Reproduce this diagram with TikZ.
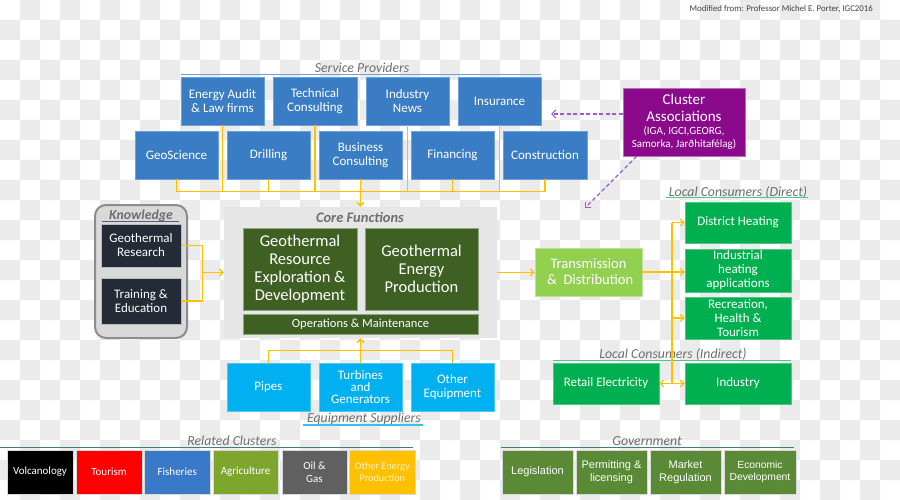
\documentclass[tikz,border=0pt]{standalone}
\usepackage{fontspec}
\setmainfont{Carlito}
\newfontfamily\arialf{Liberation Sans}
\usetikzlibrary{arrows.meta}
\definecolor{chk}{HTML}{EBEBEB}
\definecolor{spblue}{HTML}{3A7DC4}
\definecolor{spedge}{HTML}{6FA0D8}
\definecolor{capurple}{HTML}{8B0A8B}
\definecolor{dashP}{HTML}{9A5BD2}
\definecolor{connY}{HTML}{FFC000}
\definecolor{navy}{HTML}{232B36}
\definecolor{kgfill}{HTML}{D9D9D9}
\definecolor{kgedge}{HTML}{8C8C8C}
\definecolor{corefill}{HTML}{E6E6E6}
\definecolor{dgreen}{HTML}{3E6123}
\definecolor{dgedge}{HTML}{8FA67A}
\definecolor{lgreen}{HTML}{92D050}
\definecolor{cgreen}{HTML}{00B050}
\definecolor{cyanb}{HTML}{00B0F0}
\definecolor{lblgray}{HTML}{6E6E6E}
\definecolor{teal}{HTML}{3F7F7F}
\definecolor{fishb}{HTML}{3A78C8}
\definecolor{agri}{HTML}{7EA62D}
\definecolor{oilg}{HTML}{606060}
\definecolor{govg}{HTML}{5A8A35}
\definecolor{paleY}{HTML}{FFF2CC}
\newcommand\mybox[7]{\node[#6, minimum width={(#4)-(#2)}, minimum height={(#5)-(#3)}] (#1) at ({((#2)+(#4))/2},{((#3)+(#5))/2}) {#7};}
\newcommand\smallca{\fontsize{11}{13}\selectfont}
\begin{document}
\begin{tikzpicture}[x=1pt,y=-1pt,
  base/.style={inner sep=0pt, align=center, text=white},
  spbox/.style={base, fill=spblue, draw=spedge, line width=0.8pt, font=\fontsize{13}{14}\selectfont},
  kbox/.style={base, fill=navy, draw=kgedge!60, line width=0.6pt, font=\fontsize{13}{14}\selectfont},
  gbox/.style={base, fill=dgreen, draw=dgedge, line width=0.8pt, font=\fontsize{16.5}{18}\selectfont},
  cbox/.style={base, fill=cgreen, draw=cgreen!70!white, line width=0.6pt, font=\fontsize{13}{14}\selectfont},
  ebox/.style={base, fill=cyanb, draw=cyanb!70!white, line width=0.6pt, font=\fontsize{13}{12}\selectfont},
  rbox/.style={base, draw=white!85!black, line width=0.6pt, font=\fontsize{11}{13}\selectfont},
  gvbox/.style={base, fill=govg, draw=white!85!black, line width=0.6pt, font=\arialf\fontsize{11}{13}\selectfont},
  lbl/.style={inner sep=0pt, text=lblgray, font=\fontsize{13.8}{16}\selectfont\itshape},
  yline/.style={draw=connY, line width=1.3pt},
  yarrow/.style={yline, -{Straight Barb[length=3.5pt,width=7pt]}},
  pdash/.style={draw=dashP, line width=1.2pt, dash pattern=on 4pt off 2.5pt, -{Straight Barb[length=4pt,width=8pt]}}
]
\useasboundingbox (0,0) rectangle (900,500);
% checkerboard background
\fill[white] (0,0) rectangle (900,500);
\fill[chk] \foreach \i in {1,3,...,43}{\foreach \j in {0,2,...,24}{(20*\i,20*\j) rectangle ++(20,20)}}
           \foreach \i in {0,2,...,44}{\foreach \j in {1,3,...,23}{(20*\i,20*\j) rectangle ++(20,20)}};

% credit
\node[inner sep=0pt, anchor=east, text=black!75, font=\fontsize{8.8}{10}\selectfont] (credit) at (873,9) {Modified from: Professor Michel E. Porter, IGC2016};

% Service providers
\node[lbl] (splbl) at (362,68) {Service Providers};
\draw[draw=spedge, line width=1pt] (181,74.5) -- (541,74.5);
\mybox{ea}{181}{77}{264}{125}{spbox}{Energy Audit\\\& Law firms}
\mybox{tc}{273}{77}{357}{125}{spbox}{Technical\\Consulting}
\mybox{inn}{366}{77}{449}{125}{spbox}{Industry\\News}
\mybox{ins}{458}{77}{541}{125}{spbox}{Insurance}
\mybox{geo}{135}{131}{218}{179}{spbox}{GeoScience}
\mybox{dri}{227}{131}{310}{179}{spbox}{Drilling}
\mybox{bus}{319}{131}{402}{179}{spbox}{Business\\Consulting}
\mybox{fin}{411}{131}{494}{179}{spbox}{Financing}
\mybox{con}{503}{131}{587}{179}{spbox}{Construction}

% Cluster associations
\mybox{ca}{623}{88}{745}{156}{base, fill=capurple, draw=capurple!60!white, line width=0.6pt, font=\fontsize{15}{16.5}\selectfont}{Cluster\\Associations\\[-3pt]{\smallca (IGA, IGCI,GEORG,}\\[-3.5pt]{\smallca Samorka, Jarðhitafélag)}}

% Knowledge
\mybox{kg}{95}{205}{187}{338}{fill=kgfill, draw=kgedge, line width=2pt, rounded corners=11pt, inner sep=0pt}{}
\node[inner sep=0pt, text=lblgray, font=\fontsize{13.8}{16}\selectfont\bfseries\itshape] (klbl) at (141,215.5) {Knowledge};
\draw[draw=black!45!blue!30!gray, line width=1.2pt] (102,221.5) -- (179,221.5);
\mybox{res}{101}{224}{181}{267}{kbox}{Geothermal\\Research}
\mybox{trn}{101}{278}{181}{324}{kbox}{Training \&\\Education}

% Core functions
\mybox{core}{224}{207}{497}{338}{fill=corefill, inner sep=0pt}{}
\node[inner sep=0pt, text=lblgray, font=\fontsize{14.5}{16}\selectfont\bfseries\itshape] (corelbl) at (360,217) {Core Functions};
\mybox{gred}{243}{228}{357}{310}{gbox}{Geothermal\\Resource\\Exploration \&\\Development}
\mybox{gep}{365}{228}{478}{310}{gbox}{Geothermal\\Energy\\Production}
\mybox{om}{243}{314}{478}{334}{gbox, font=\fontsize{12.5}{14}\selectfont}{Operations \& Maintenance}

% Transmission
\mybox{td}{535}{248}{642}{296}{base, fill=lgreen, draw=lgreen!60!white, line width=0.6pt, font=\fontsize{14.5}{16}\selectfont}{Transmission\\\ \&\ \ Distribution}

% Local consumers
\node[lbl] (ldlbl) at (738,192) {Local Consumers (Direct)};
\draw[draw=cgreen!70!white, line width=1pt] (666,197.5) -- (808,197.5);
\mybox{dh}{685}{202}{791}{243}{cbox}{District Heating}
\mybox{ih}{685}{249}{791}{292}{cbox}{Industrial\\heating\\applications}
\mybox{rht}{685}{297}{791}{339}{cbox}{Recreation,\\Health \&\\Tourism}
\node[lbl] (lilbl) at (673,354) {Local Consumers (Indirect)};
\draw[draw=cgreen!70!white, line width=1pt] (553,360) -- (791,360);
\mybox{indus}{685}{363}{791}{404}{cbox}{Industry}
\mybox{ret}{553}{363}{659}{404}{cbox}{Retail Electricity}

% Equipment suppliers
\mybox{pipes}{227}{363}{310}{411}{ebox}{Pipes}
\mybox{turb}{319}{363}{402}{411}{ebox}{Turbines\\and\\Generators}
\mybox{oth}{411}{363}{494}{411}{ebox, font=\fontsize{13}{14}\selectfont}{Other\\Equipment}
\node[lbl] (eqlbl) at (364,419) {Equipment Suppliers};
\draw[draw=cyanb!80!white, line width=1.2pt] (303,425) -- (423,425);

% Related clusters
\node[lbl] (rclbl) at (232,441) {Related Clusters};
\draw[draw=teal, line width=1pt] (0,447.7) -- (413,447.7);
\mybox{volc}{7}{450}{73}{494}{rbox, fill=black}{Volcanology}
\mybox{tour}{76}{450}{142}{494}{rbox, fill=red}{Tourism}
\mybox{fish}{144.5}{450}{210}{494}{rbox, fill=fishb}{Fisheries}
\mybox{agr}{213}{450}{278}{494}{rbox, fill=agri}{Agriculture}
\mybox{oil}{282}{450}{347}{494}{rbox, fill=oilg}{Oil \&\\Gas}
\mybox{oep}{349.5}{450}{415}{494}{rbox, fill=connY, text=paleY, font=\fontsize{10.2}{11.5}\selectfont}{Other Energy\\Production}

% Government
\node[lbl] (gvlbl) at (647,441) {Government};
\draw[draw=teal, line width=1pt] (501,447.7) -- (794,447.7);
\mybox{leg}{502}{450}{573}{494}{gvbox}{Legislation}
\mybox{perm}{576}{450}{647}{494}{gvbox}{Permitting \&\\licensing}
\mybox{mkt}{650}{450}{721}{494}{gvbox}{Market\\Regulation}
\mybox{eco}{724}{450}{796}{494}{gvbox, font=\arialf\fontsize{10.3}{12.5}\selectfont}{Economic\\Development}

% Connectors: service providers
\coordinate (spb) at (360,191.5);
\draw[yline] (geo.south) -- (geo.south |- spb) -- (con.south |- spb) -- (con.south);
\foreach \n in {ea,tc,inn,ins,dri,bus,fin} \draw[yline] (\n.south) -- (\n.south |- spb);
\draw[yarrow] (bus.south |- spb) -- (bus.south |- core.north);

% Knowledge to core
\draw[yline] (res.east) -- ++(21.5,0) |- (trn.east);
\coordinate (kbx) at (202.5,272.5);
\draw[yarrow] (core.west -| kbx) -- (core.west);

% Core to transmission to consumers
\draw[yarrow] (core.east) -- (core.east -| td.west);
\draw[yarrow] (td.east) -- (td.east -| ih.west);
\coordinate (vx) at (672,0);
\draw[yline] (vx |- dh.west) -- (vx |- indus.west);
\draw[yarrow] (vx |- dh.west) -- (dh.west);
\draw[yarrow] (vx |- rht.west) -- (rht.west);
\draw[yarrow] (vx |- indus.west) -- (indus.west);
\draw[yarrow] (vx |- ret.east) -- (ret.east);

% Equipment to core
\draw[yline] (pipes.north) -- ++(0,-12.3) -| (oth.north);
\draw[yarrow] (turb.north) -- (turb.north |- core.south);

% Cluster associations dashed arrows
\coordinate (ca1) at (551,114);
\draw[pdash] (ca.west |- ca1) -- (ca1);
\coordinate (ca2) at (585,208);
\draw[pdash] ([xshift=14pt]ca.south west) -- (ca2);
\end{tikzpicture}
\end{document}
